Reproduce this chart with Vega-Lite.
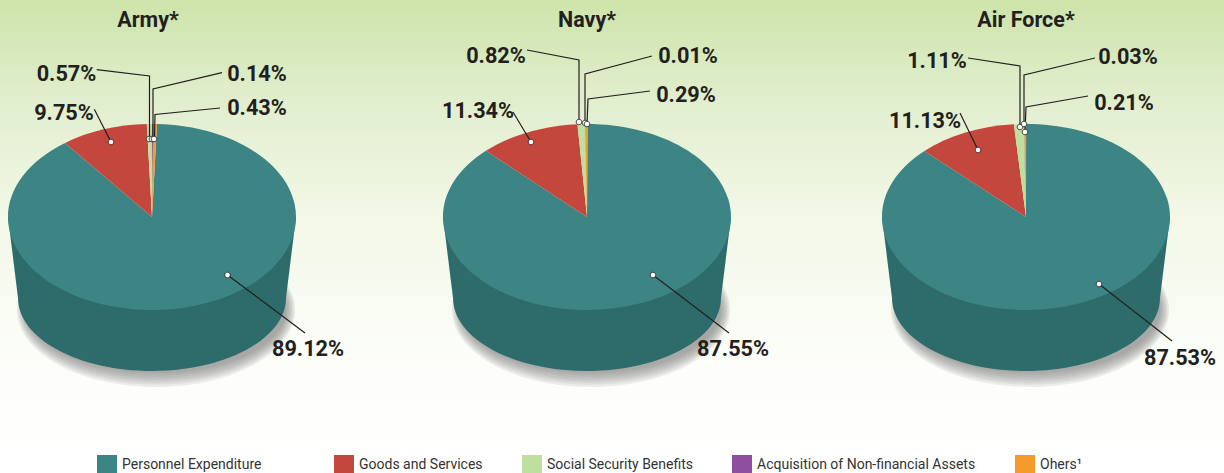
{
  "$schema": "https://vega.github.io/schema/vega-lite/v6.json",
  "width": 1224,
  "height": 473,
  "padding": 0,
  "autosize": {"type": "fit", "contains": "padding"},
  "view": {
    "stroke": null,
    "fill": {
      "gradient": "linear", "x1": 0, "y1": 0, "x2": 0, "y2": 1,
      "stops": [
        {"offset": 0, "color": "#cde4aa"},
        {"offset": 0.21, "color": "#e1eecd"},
        {"offset": 0.47, "color": "#f3f8e8"},
        {"offset": 0.8, "color": "#fdfefb"},
        {"offset": 1, "color": "#ffffff"}
      ]
    }
  },
  "config": {"font": "Roboto"},
  "datasets": {
    "services": [
      {"panel": 1, "service": "Army*"},
      {"panel": 2, "service": "Navy*"},
      {"panel": 3, "service": "Air Force*"}
    ],
    "slices": [
      {"panel": 1, "slice": "Army|Personnel", "category": "Personnel Expenditure", "share": 0.8912},
      {"panel": 1, "slice": "Army|Goods", "category": "Goods and Services", "share": 0.0975},
      {"panel": 1, "slice": "Army|Social", "category": "Social Security Benefits", "share": 0.0057},
      {"panel": 1, "slice": "Army|Assets", "category": "Acquisition of Non-financial Assets", "share": 0.0014},
      {"panel": 1, "slice": "Army|Others", "category": "Ohers¹", "share": 0.0043},
      {"panel": 2, "slice": "Navy|Personnel", "category": "Personnel Expenditure", "share": 0.8755},
      {"panel": 2, "slice": "Navy|Goods", "category": "Goods and Services", "share": 0.1134},
      {"panel": 2, "slice": "Navy|Social", "category": "Social Security Benefits", "share": 0.0082},
      {"panel": 2, "slice": "Navy|Assets", "category": "Acquisition of Non-financial Assets", "share": 0.0001},
      {"panel": 2, "slice": "Navy|Others", "category": "Ohers¹", "share": 0.0029},
      {"panel": 3, "slice": "Air|Personnel", "category": "Personnel Expenditure", "share": 0.8753},
      {"panel": 3, "slice": "Air|Goods", "category": "Goods and Services", "share": 0.1113},
      {"panel": 3, "slice": "Air|Social", "category": "Social Security Benefits", "share": 0.0111},
      {"panel": 3, "slice": "Air|Assets", "category": "Acquisition of Non-financial Assets", "share": 0.0003},
      {"panel": 3, "slice": "Air|Others", "category": "Ohers¹", "share": 0.0021}
    ]
  },
  "data": {"name": "slices"},
  "encoding": {
    "x": {
      "field": "panel", "type": "quantitative", "axis": null,
      "scale": {"domain": [1, 2, 3], "range": [152, 587, 1026]}
    }
  },
  "resolve": {"scale": {"shape": "independent"}},
  "layer": [
    {"data": {"name": "services"}, "mark": {"type": "point", "filled": true, "opacity": 0.12, "strokeWidth": 0, "fill": "#707070"}, "encoding": {"size": {"value": 4}, "shape": {"value": "M-135,73.5A139,77 0 1 1 143,73.5A139,77 0 1 1 -135,73.5Z"}}},
    {"data": {"name": "services"}, "mark": {"type": "point", "filled": true, "opacity": 0.12, "strokeWidth": 0, "fill": "#707070"}, "encoding": {"size": {"value": 4}, "shape": {"value": "M-133.5,73.5A137.5,74.7 0 1 1 141.5,73.5A137.5,74.7 0 1 1 -133.5,73.5Z"}}},
    {"data": {"name": "services"}, "mark": {"type": "point", "filled": true, "opacity": 0.12, "strokeWidth": 0, "fill": "#707070"}, "encoding": {"size": {"value": 4}, "shape": {"value": "M-132,73.5A136,72.4 0 1 1 140,73.5A136,72.4 0 1 1 -132,73.5Z"}}},
    {"data": {"name": "services"}, "mark": {"type": "point", "filled": true, "opacity": 0.12, "strokeWidth": 0, "fill": "#707070"}, "encoding": {"size": {"value": 4}, "shape": {"value": "M-130.5,73.5A134.5,70.1 0 1 1 138.5,73.5A134.5,70.1 0 1 1 -130.5,73.5Z"}}},
    {"data": {"name": "services"}, "mark": {"type": "point", "filled": true, "opacity": 0.12, "strokeWidth": 0, "fill": "#707070"}, "encoding": {"size": {"value": 4}, "shape": {"value": "M-129,73.5A133,67.8 0 1 1 137,73.5A133,67.8 0 1 1 -129,73.5Z"}}},
    {"data": {"name": "services"}, "mark": {"type": "point", "filled": true, "opacity": 0.12, "strokeWidth": 0, "fill": "#707070"}, "encoding": {"size": {"value": 4}, "shape": {"value": "M-127.5,73.5A131.5,65.5 0 1 1 135.5,73.5A131.5,65.5 0 1 1 -127.5,73.5Z"}}},
    {"data": {"name": "services"}, "mark": {"type": "point", "filled": true, "opacity": 0.12, "strokeWidth": 0, "fill": "#707070"}, "encoding": {"size": {"value": 4}, "shape": {"value": "M-126,73.5A130,63.2 0 1 1 134,73.5A130,63.2 0 1 1 -126,73.5Z"}}},
    {
      "data": {"name": "services"},
      "mark": {"type": "point", "filled": true, "opacity": 1, "strokeWidth": 0, "fill": "#2e6b6b"},
      "encoding": {
        "size": {"value": 4},
        "shape": {"value": "M-144,-19.5L-134,61.5A134,73 0 0 0 134,61.5L144,-19.5Z"}
      }
    },
    {
      "transform": [{"filter": {"field": "category", "equal": "Personnel Expenditure"}}],
      "mark": {"type": "point", "filled": true, "opacity": 1, "strokeWidth": 0, "fill": "#3d8585"},
      "encoding": {
        "size": {"value": 0},
        "stroke": {
          "field": "category", "type": "nominal",
          "scale": {"domain": ["Personnel Expenditure"], "range": ["#3d8585"]},
          "legend": {
            "title": null, "orient": "none", "legendX": 97, "legendY": 455,
            "symbolType": "square", "symbolSize": 400, "symbolStrokeWidth": 0, "symbolOpacity": 1, "symbolFillColor": "#3d8585",
            "labelFont": "Roboto", "labelFontSize": 14, "labelColor": "#333333", "labelOffset": 5, "labelLimit": 400
          }
        }
      }
    },
    {
      "mark": {"type": "point", "filled": true, "opacity": 1, "strokeWidth": 0},
      "encoding": {
        "size": {"value": 4},
        "color": {
          "field": "category", "type": "nominal",
          "scale": {
            "domain": ["Personnel Expenditure", "Goods and Services", "Social Security Benefits", "Acquisition of Non-financial Assets", "Ohers¹"],
            "range": ["#3d8585", "#c4473e", "#bfdf9f", "#8e4fa0", "#f59b2b"]
          },
          "legend": {
            "title": null, "orient": "none", "legendX": 334, "legendY": 455,
            "values": ["Goods and Services", "Social Security Benefits", "Acquisition of Non-financial Assets", "Ohers¹"],
            "direction": "horizontal", "columns": 4, "columnPadding": 39,
            "symbolType": "square", "symbolSize": 400, "symbolStrokeWidth": 0, "symbolOpacity": 1,
            "labelFont": "Roboto", "labelFontSize": 14, "labelColor": "#333333", "labelOffset": 5, "labelLimit": 400
          }
        },
        "shape": {
          "field": "slice", "type": "nominal", "legend": null,
          "scale": {
            "domain": ["Army|Personnel", "Army|Goods", "Army|Social", "Army|Assets", "Army|Others",
                       "Navy|Personnel", "Navy|Goods", "Navy|Social", "Navy|Assets", "Navy|Others",
                       "Air|Personnel", "Air|Goods", "Air|Social", "Air|Assets", "Air|Others"],
            "range": [
              "M0,-19.5L5.03,-112.44A144,93 0 1 1 -87,-93.6Z",
              "M0,-19.5L-87,-93.6A144,93 0 0 1 -5.2,-112.44Z",
              "M0,-19.5L-5.2,-112.44A144,93 0 0 1 -0.04,-112.5Z",
              "M0,-19.5L-0.04,-112.5A144,93 0 0 1 1.23,-112.5Z",
              "M0,-19.5L1.23,-112.5A144,93 0 0 1 5.03,-112.44Z",
              "M0,-19.5L0.5,-112.5A144,93 0 1 1 -101.15,-85.7Z",
              "M0,-19.5L-101.15,-85.7A144,93 0 0 1 -9.53,-112.3Z",
              "M0,-19.5L-9.53,-112.3A144,93 0 0 1 -2.12,-112.49Z",
              "M0,-19.5L-2.12,-112.49A144,93 0 0 1 -2.03,-112.49Z",
              "M0,-19.5L-2.03,-112.49A144,93 0 0 1 0.5,-112.5Z",
              "M0,-19.5L0.09,-112.5A144,93 0 1 1 -101.64,-85.38Z",
              "M0,-19.5L-101.64,-85.38A144,93 0 0 1 -12.11,-112.17Z",
              "M0,-19.5L-12.11,-112.17A144,93 0 0 1 -2.08,-112.49Z",
              "M0,-19.5L-2.08,-112.49A144,93 0 0 1 -1.81,-112.49Z",
              "M0,-19.5L-1.81,-112.49A144,93 0 0 1 0.09,-112.5Z"
            ]
          }
        }
      }
    },
    {
      "mark": {"type": "point", "filled": false, "opacity": 1, "stroke": "#231f20", "strokeWidth": 1.2, "fill": null},
      "encoding": {
        "size": {"value": 4},
        "shape": {
          "field": "slice", "type": "nominal", "legend": null,
          "scale": {
            "domain": ["Army|Personnel", "Army|Goods", "Army|Social", "Army|Assets", "Army|Others",
                       "Navy|Personnel", "Navy|Goods", "Navy|Social", "Navy|Assets", "Navy|Others",
                       "Air|Personnel", "Air|Goods", "Air|Social", "Air|Assets", "Air|Others"],
            "range": [
              "M75.5,38.5L153,96.5",
              "M-57.7,-127.2L-41,-94.5",
              "M-55.3,-166.8L-2.5,-160.5L-2.5,-97.5",
              "M70,-163.8L1,-147.5L1,-97.5",
              "M68,-128.5L3,-122L2.5,-97.5",
              "M66,38.5L142,96.5",
              "M-74,-124.5L-56,-94.5",
              "M-60,-186.5L-8,-176.5L-8,-114.5",
              "M65,-180.5L-2,-162.5L-2,-113.5",
              "M63,-145.5L1,-137.5L0,-112.5",
              "M73,47.5L146,104.5",
              "M-66,-123.5L-48,-86.5",
              "M-58,-178.5L-6,-170.5L-6,-109.5",
              "M69,-178.5L-2,-161.5L-2,-112.5",
              "M62,-140.5L0,-129.5L-1,-104.5"
            ]
          }
        }
      }
    },
    {
      "mark": {"type": "point", "filled": true, "opacity": 1, "fill": "#ffffff", "stroke": "#231f20", "strokeWidth": 0.8},
      "encoding": {
        "size": {"value": 4},
        "shape": {
          "field": "slice", "type": "nominal", "legend": null,
          "scale": {
            "domain": ["Army|Personnel", "Army|Goods", "Army|Social", "Army|Assets", "Army|Others",
                       "Navy|Personnel", "Navy|Goods", "Navy|Social", "Navy|Assets", "Navy|Others",
                       "Air|Personnel", "Air|Goods", "Air|Social", "Air|Assets", "Air|Others"],
            "range": [
              "M72.7,38.5a2.8,2.8 0 1 0 5.6,0a2.8,2.8 0 1 0 -5.6,0Z",
              "M-43.8,-94.5a2.8,2.8 0 1 0 5.6,0a2.8,2.8 0 1 0 -5.6,0Z",
              "M-5.8,-97.5a2.8,2.8 0 1 0 5.6,0a2.8,2.8 0 1 0 -5.6,0Z",
              "M-2.8,-97.5a2.8,2.8 0 1 0 5.6,0a2.8,2.8 0 1 0 -5.6,0Z",
              "M-0.8,-97.5a2.8,2.8 0 1 0 5.6,0a2.8,2.8 0 1 0 -5.6,0Z",
              "M63.2,38.5a2.8,2.8 0 1 0 5.6,0a2.8,2.8 0 1 0 -5.6,0Z",
              "M-58.8,-94.5a2.8,2.8 0 1 0 5.6,0a2.8,2.8 0 1 0 -5.6,0Z",
              "M-10.8,-114.5a2.8,2.8 0 1 0 5.6,0a2.8,2.8 0 1 0 -5.6,0Z",
              "M-4.8,-113.5a2.8,2.8 0 1 0 5.6,0a2.8,2.8 0 1 0 -5.6,0Z",
              "M-2.8,-112.5a2.8,2.8 0 1 0 5.6,0a2.8,2.8 0 1 0 -5.6,0Z",
              "M70.2,47.5a2.8,2.8 0 1 0 5.6,0a2.8,2.8 0 1 0 -5.6,0Z",
              "M-50.8,-86.5a2.8,2.8 0 1 0 5.6,0a2.8,2.8 0 1 0 -5.6,0Z",
              "M-8.8,-109.5a2.8,2.8 0 1 0 5.6,0a2.8,2.8 0 1 0 -5.6,0Z",
              "M-4.8,-112.5a2.8,2.8 0 1 0 5.6,0a2.8,2.8 0 1 0 -5.6,0Z",
              "M-3.8,-104.5a2.8,2.8 0 1 0 5.6,0a2.8,2.8 0 1 0 -5.6,0Z"
            ]
          }
        }
      }
    },
    {
      "data": {"name": "services"},
      "transform": [{"filter": {"field": "panel", "equal": 1}}],
      "mark": {"type": "text", "font": "Roboto", "fontWeight": "bold", "fontSize": 21.5, "color": "#231f20", "dx": -4, "dy": -215.5},
      "encoding": {"text": {"field": "service", "type": "nominal"}}
    },
    {
      "data": {"name": "services"},
      "transform": [{"filter": {"field": "panel", "gt": 1}}],
      "mark": {"type": "text", "font": "Roboto", "fontWeight": "bold", "fontSize": 21.5, "color": "#231f20", "dy": -215.5},
      "encoding": {"text": {"field": "service", "type": "nominal"}}
    },
    {"transform": [{"filter": {"field": "slice", "equal": "Army|Personnel"}}], "mark": {"type": "text", "font": "Roboto", "fontWeight": "bold", "fontSize": 21.7, "color": "#231f20", "dx": 156, "dy": 112.5}, "encoding": {"text": {"field": "share", "type": "quantitative", "format": ".2%"}}},
    {"transform": [{"filter": {"field": "slice", "equal": "Army|Goods"}}], "mark": {"type": "text", "font": "Roboto", "fontWeight": "bold", "fontSize": 21.7, "color": "#231f20", "dx": -88, "dy": -123.5}, "encoding": {"text": {"field": "share", "type": "quantitative", "format": ".2%"}}},
    {"transform": [{"filter": {"field": "slice", "equal": "Army|Social"}}], "mark": {"type": "text", "font": "Roboto", "fontWeight": "bold", "fontSize": 21.7, "color": "#231f20", "dx": -85.5, "dy": -162.5}, "encoding": {"text": {"field": "share", "type": "quantitative", "format": ".2%"}}},
    {"transform": [{"filter": {"field": "slice", "equal": "Army|Assets"}}], "mark": {"type": "text", "font": "Roboto", "fontWeight": "bold", "fontSize": 21.7, "color": "#231f20", "dx": 105, "dy": -162.5}, "encoding": {"text": {"field": "share", "type": "quantitative", "format": ".2%"}}},
    {"transform": [{"filter": {"field": "slice", "equal": "Army|Others"}}], "mark": {"type": "text", "font": "Roboto", "fontWeight": "bold", "fontSize": 21.7, "color": "#231f20", "dx": 105, "dy": -128.5}, "encoding": {"text": {"field": "share", "type": "quantitative", "format": ".2%"}}},
    {"transform": [{"filter": {"field": "slice", "equal": "Navy|Personnel"}}], "mark": {"type": "text", "font": "Roboto", "fontWeight": "bold", "fontSize": 21.7, "color": "#231f20", "dx": 146, "dy": 112.5}, "encoding": {"text": {"field": "share", "type": "quantitative", "format": ".2%"}}},
    {"transform": [{"filter": {"field": "slice", "equal": "Navy|Goods"}}], "mark": {"type": "text", "font": "Roboto", "fontWeight": "bold", "fontSize": 21.7, "color": "#231f20", "dx": -109, "dy": -125.5}, "encoding": {"text": {"field": "share", "type": "quantitative", "format": ".2%"}}},
    {"transform": [{"filter": {"field": "slice", "equal": "Navy|Social"}}], "mark": {"type": "text", "font": "Roboto", "fontWeight": "bold", "fontSize": 21.7, "color": "#231f20", "dx": -91, "dy": -180.5}, "encoding": {"text": {"field": "share", "type": "quantitative", "format": ".2%"}}},
    {"transform": [{"filter": {"field": "slice", "equal": "Navy|Assets"}}], "mark": {"type": "text", "font": "Roboto", "fontWeight": "bold", "fontSize": 21.7, "color": "#231f20", "dx": 101, "dy": -180.5}, "encoding": {"text": {"field": "share", "type": "quantitative", "format": ".2%"}}},
    {"transform": [{"filter": {"field": "slice", "equal": "Navy|Others"}}], "mark": {"type": "text", "font": "Roboto", "fontWeight": "bold", "fontSize": 21.7, "color": "#231f20", "dx": 99, "dy": -141.5}, "encoding": {"text": {"field": "share", "type": "quantitative", "format": ".2%"}}},
    {"transform": [{"filter": {"field": "slice", "equal": "Air|Personnel"}}], "mark": {"type": "text", "font": "Roboto", "fontWeight": "bold", "fontSize": 21.7, "color": "#231f20", "dx": 154, "dy": 121.5}, "encoding": {"text": {"field": "share", "type": "quantitative", "format": ".2%"}}},
    {"transform": [{"filter": {"field": "slice", "equal": "Air|Goods"}}], "mark": {"type": "text", "font": "Roboto", "fontWeight": "bold", "fontSize": 21.7, "color": "#231f20", "dx": -101, "dy": -115.5}, "encoding": {"text": {"field": "share", "type": "quantitative", "format": ".2%"}}},
    {"transform": [{"filter": {"field": "slice", "equal": "Air|Social"}}], "mark": {"type": "text", "font": "Roboto", "fontWeight": "bold", "fontSize": 21.7, "color": "#231f20", "dx": -89, "dy": -175.5}, "encoding": {"text": {"field": "share", "type": "quantitative", "format": ".2%"}}},
    {"transform": [{"filter": {"field": "slice", "equal": "Air|Assets"}}], "mark": {"type": "text", "font": "Roboto", "fontWeight": "bold", "fontSize": 21.7, "color": "#231f20", "dx": 102, "dy": -179.5}, "encoding": {"text": {"field": "share", "type": "quantitative", "format": ".2%"}}},
    {"transform": [{"filter": {"field": "slice", "equal": "Air|Others"}}], "mark": {"type": "text", "font": "Roboto", "fontWeight": "bold", "fontSize": 21.7, "color": "#231f20", "dx": 98, "dy": -133.5}, "encoding": {"text": {"field": "share", "type": "quantitative", "format": ".2%"}}}
  ]
}
